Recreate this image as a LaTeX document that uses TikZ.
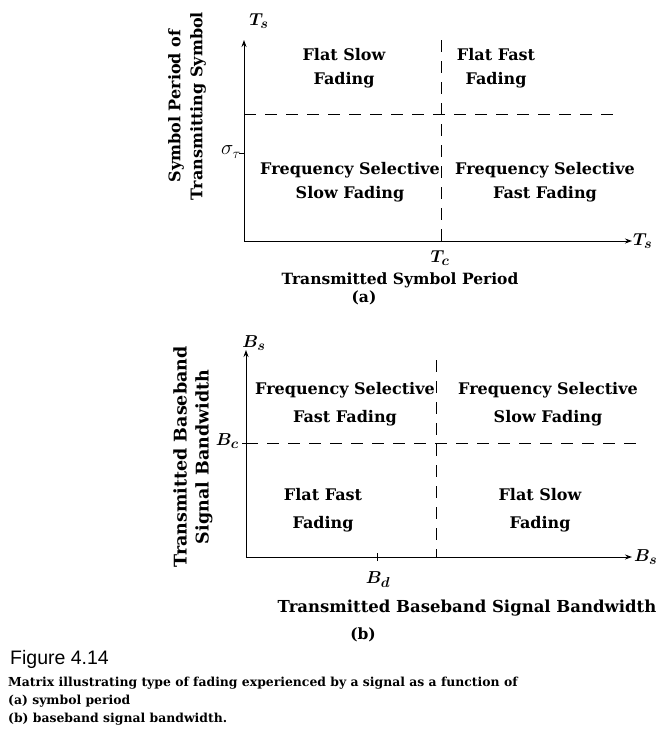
\documentclass[tikz,border=0pt]{standalone}
\usepackage{fontspec}
\usepackage{bm}
\setmainfont{DejaVu Serif}
\newfontfamily\capsans{Liberation Sans}
\usetikzlibrary{arrows.meta}
\begin{document}
\begin{tikzpicture}[x=1pt,y=-1pt,
  axisline/.style={line width=0.9pt,-{Stealth[length=7pt,width=5pt]}},
  divline/.style={line width=1pt,dash pattern=on 12pt off 9pt},
  tickline/.style={line width=0.8pt},
  region/.style={align=center,font=\fontsize{16}{24}\selectfont\bfseries,inner sep=0pt},
  regionb/.style={align=center,font=\fontsize{16}{28}\selectfont\bfseries,inner sep=0pt},
  axlab/.style={font=\fontsize{19}{19}\selectfont,inner sep=0pt},
  title/.style={font=\fontsize{15.5}{15.5}\selectfont\bfseries,inner sep=0pt},
  ylab/.style={align=center,rotate=90,font=\fontsize{16}{22}\selectfont\bfseries,inner sep=0pt},
  capline/.style={anchor=west,font=\fontsize{12.4}{12.4}\selectfont\bfseries,inner sep=0pt}]
\useasboundingbox (0,0) rectangle (668,739);
% ---------- (a) ----------
\coordinate (aO) at (244,241);
\coordinate (aTop) at (244,40);
\coordinate (aRight) at (632,241);
\coordinate (aHl) at (244,114);
\coordinate (aHr) at (616,114);
\coordinate (aVt) at (441,40);
\coordinate (aVb) at (441,250);
\coordinate (aSig) at (244,153);
\draw[axisline] (aO) -- (aTop);
\draw[axisline] (aO) -- (aRight);
\draw[divline] (aHl) -- (aHr);
\draw[divline] (aVt) -- (aVb);
\draw[tickline] ([xshift=-5pt]aSig) -- (aSig);
\node[axlab] (aTs) at (259,21) {$\bm{T_s}$};
\node[axlab,anchor=west] (aTsx) at ([xshift=1pt]aRight) {$\bm{T_s}$};
\node[anchor=east,inner sep=0pt,font=\fontsize{20}{20}\selectfont] (asig) at (241,152) {$\sigma_\tau$};
\node[axlab] (aTc) at (440,258) {$\bm{T_c}$};
\node[region] (r1) at (344,68) {Flat Slow\\Fading};
\node[region] (r2) at (496,68) {Flat Fast\\Fading};
\node[region] (r3) at (350,182) {Frequency Selective\\Slow Fading};
\node[region] (r4) at (545,182) {Frequency Selective\\Fast Fading};
\node[title] (axa) at (400,280) {Transmitted Symbol Period};
\node[title] (capa) at (364,298) {(a)};
\node[ylab] (ya) at (187,106) {Symbol Period of\\Transmitting Symbol};
% ---------- (b) ----------
\coordinate (bO) at (246,557);
\coordinate (bTop) at (246,350);
\coordinate (bRight) at (632,557);
\coordinate (bHl) at (246,443);
\coordinate (bHr) at (640,443);
\coordinate (bVt) at (436,360);
\coordinate (bVb) at (436,557);
\coordinate (bBd) at (377,557);
\draw[axisline] (bO) -- (bTop);
\draw[axisline] (bO) -- (bRight);
\draw[divline] (bHl) -- (bHr);
\draw[divline] (bVt) -- (bVb);
\draw[tickline] ([xshift=-4pt]bHl) -- ([xshift=4pt]bHl);
\draw[tickline] ([yshift=-4pt]bBd) -- ([yshift=4pt]bBd);
\node[axlab] (bBs) at (254,343) {$\bm{B_s}$};
\node[axlab,anchor=west] (bBsx) at ([xshift=2pt]bRight) {$\bm{B_s}$};
\node[axlab,anchor=east] (bBc) at (239,441) {$\bm{B_c}$};
\node[axlab] (bBdl) at (378,580) {$\bm{B_d}$};
\node[regionb] (s1) at (345,404) {Frequency Selective\\Fast Fading};
\node[regionb] (s2) at (548,404) {Frequency Selective\\Slow Fading};
\node[regionb] (s3) at (323,510) {Flat Fast\\Fading};
\node[regionb] (s4) at (540,510) {Flat Slow\\Fading};
\node[title,font=\fontsize{16.5}{16.5}\selectfont\bfseries] (axb) at (467,608) {Transmitted Baseband Signal Bandwidth};
\node[title] (capb) at (363,635) {(b)};
\node[ylab,font=\fontsize{17.5}{22}\selectfont\bfseries] (yb) at (193,457) {Transmitted Baseband\\Signal Bandwidth};
% ---------- caption ----------
\node[anchor=west,inner sep=0pt,font=\capsans\fontsize{19.5}{19.5}\selectfont] (fig) at (10,659) {Figure 4.14};
\node[capline] (c1) at (8,683) {Matrix illustrating type of fading experienced by a signal as a function of};
\node[capline] (c2) at (8,701) {(a) symbol period};
\node[capline] (c3) at (8,719) {(b) baseband signal bandwidth.};
\end{tikzpicture}
\end{document}
